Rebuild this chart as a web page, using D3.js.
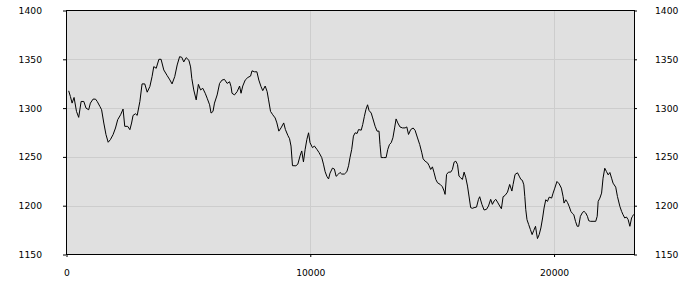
<!DOCTYPE html>
<html>
<head>
<meta charset="utf-8">
<script src="https://cdn.jsdelivr.net/npm/d3@7"></script>
<style>
  body { margin: 0; background: white; }
</style>
</head>
<body>
<script>
    // series (x position, value)
    var xs = [90,160,230,310,410,500,600,710,800,910,980,1090,1190,1260,1370,1440,1530,1620,1710,1800,
        1910,2010,2100,2220,2320,2390,2510,2600,2670,2730,2830,2900,3010,3100,3210,3310,3420,3510,3580,3680,
        3790,3880,3990,4130,4240,4330,4440,4540,4640,4730,4810,4910,5020,5090,5140,5220,5320,5410,5500,5590,
        5690,5770,5870,5930,6010,6070,6180,6280,6380,6480,6590,6690,6750,6790,6890,7000,7100,7160,7230,7330,
        7440,7550,7610,7710,7810,7890,7980,8050,8150,8230,8290,8370,8460,8560,8630,8710,8800,8910,8980,9080,
        9150,9210,9270,9410,9490,9580,9650,9720,9790,9860,9930,9990,10090,10170,10270,10360,10470,10540,10610,10680,
        10750,10810,10910,10990,11060,11160,11220,11290,11400,11500,11570,11630,11700,11770,11840,11920,11980,12090,12150,12220,
        12280,12350,12410,12500,12560,12660,12740,12820,12860,12910,13000,13110,13180,13250,13320,13390,13460,13520,13590,13680,
        13780,13890,13960,14030,14120,14220,14300,14400,14490,14570,14630,14710,14810,14870,14940,15010,15080,15150,15220,15330,
        15420,15490,15530,15590,15670,15760,15830,15900,15970,16040,16100,16170,16240,16310,16380,16450,16510,16580,16650,16720,
        16820,16900,16950,17040,17130,17230,17310,17400,17470,17540,17610,17680,17770,17840,17910,17990,18090,18180,18270,18320,
        18400,18500,18570,18640,18700,18760,18800,18840,18890,18960,19030,19100,19170,19240,19280,19320,19390,19460,19530,19590,
        19660,19730,19800,19900,19960,20030,20120,20210,20300,20370,20410,20480,20550,20620,20690,20760,20810,20880,20950,21010,
        21080,21170,21230,21300,21370,21420,21490,21600,21710,21770,21810,21880,21950,22010,22080,22150,22220,22290,22360,22420,
        22530,22600,22700,22770,22830,22900,22970,23040,23110,23180,23220,23260]
    var values = [1317.7,1311.9,1305.1,1310.9,1296.6,1290.5,1306.8,1306.8,1300,1298.3,1305.1,1309.2,1309.2,1306.8,1301.7,1298.3,1284.7,1272.8,1265,1267.7,
        1272.8,1279.6,1288.1,1293.2,1299,1281.3,1281.3,1277.9,1284.7,1292.5,1294.2,1292.5,1306.8,1324.8,1324.8,1316.3,1322.1,1332.3,1342.5,1340.8,
        1350,1350,1339.1,1333.3,1328.9,1324.8,1332.3,1344.2,1352.7,1352,1347.3,1351.7,1349,1342.2,1330.4,1318.6,1308.4,1324.3,1318.6,1320.3,
        1315.2,1310.1,1303.4,1294.9,1296.6,1305.1,1313.5,1325.3,1328.7,1329.4,1325.3,1327,1322,1315.2,1313.5,1316.9,1322.6,1315.2,1322.6,1328.7,
        1331.4,1332.8,1338.2,1337.2,1337.2,1328.7,1322,1317.9,1322.6,1316.9,1308.4,1296.6,1293.2,1289.9,1284.8,1276.4,1279.7,1284.8,1278,1272,
        1268.6,1261.1,1241,1240.9,1242.6,1251,1256.1,1244.9,1257.8,1267.9,1274.7,1264.5,1259.5,1261.1,1257.8,1254.4,1249.3,1242.6,1234.8,1230.1,
        1227.4,1233.4,1238.5,1237.5,1230.1,1232.4,1234.1,1232.4,1232.4,1234.8,1240.9,1249.3,1257.8,1271.3,1274.7,1274,1278,1277.4,1283.1,1291.6,
        1298.3,1303.4,1297.6,1294.9,1289.9,1281.4,1276.4,1276.4,1262.8,1249.3,1249.3,1249.3,1257.8,1262.8,1264.5,1269.6,1279.7,1288.9,1284.8,1280.7,
        1279.7,1279.7,1280.7,1273,1278,1279.6,1277.2,1269.4,1262.6,1254.8,1248,1245.6,1243.9,1241.2,1237.1,1239.8,1233.7,1226.9,1223.5,1221.8,
        1219.4,1215,1211.6,1232,1234.4,1234.4,1237.1,1244.6,1245.6,1242.2,1230.3,1228.6,1226.9,1234.4,1228.6,1220.1,1209.9,1198,1197.3,1198,
        1198.6,1206.5,1209.2,1201.4,1195.6,1196.3,1199.7,1206.5,1201.4,1204.8,1206.5,1203.7,1199.7,1196.9,1209.2,1210.5,1213.9,1221.8,1215,1221.8,
        1232,1233.7,1230.3,1226.9,1226,1221.4,1209.5,1195.9,1185.7,1180.6,1175.5,1170.4,1174.8,1178.9,1172.1,1166.3,1170.4,1177.2,1187.4,1197.6,
        1206.1,1204.4,1208.8,1207.8,1212.9,1218,1224.8,1222.4,1218,1209.5,1202.7,1206.1,1203.4,1199.3,1194.2,1191.8,1190.8,1184,1178.9,1178.9,
        1189.1,1193.2,1194.2,1192.5,1189.1,1184.7,1184,1184,1184,1189.1,1204.4,1207.8,1212.9,1228.2,1238.4,1235,1231.6,1234,1228.2,1223.1,
        1219,1209.5,1199.3,1194.2,1190.8,1187.4,1188.4,1185.7,1178.9,1187.4,1189.1,1191]

    var xTicks = [0, 10000, 20000]
    var yTicks = [1150, 1200, 1250, 1300, 1350, 1400]
    var xMax = 23300

    var svg = d3.select("body")
        .append("svg")
        .attr("width", 700)
        .attr("height", 300)
        .style("font-family", "DejaVu Sans, sans-serif")
        .style("font-size", "9.2px");

    var x = d3.scaleLinear().domain([0, xMax]).range([66.5, 634.5]);
    var y = d3.scaleLinear().domain([1150, 1400]).range([254.5, 10.5]);

    // plot background
    svg.append("rect")
        .attr("x", x(0)).attr("y", y(1400))
        .attr("width", x(xMax) - x(0)).attr("height", y(1150) - y(1400))
        .style("fill", "#e0e0e0");

    // grid
    svg.selectAll(".hgrid").data(yTicks.slice(1, -1)).enter()
        .append("line")
        .attr("x1", x(0)).attr("x2", x(xMax))
        .attr("y1", function (d) { return Math.round(y(d)) + 0.5 })
        .attr("y2", function (d) { return Math.round(y(d)) + 0.5 })
        .style("stroke", "#cdcdcd");
    svg.selectAll(".vgrid").data(xTicks.slice(1)).enter()
        .append("line")
        .attr("x1", function (d) { return Math.round(x(d)) + 0.5 })
        .attr("x2", function (d) { return Math.round(x(d)) + 0.5 })
        .attr("y1", y(1400)).attr("y2", y(1150))
        .style("stroke", "#cdcdcd");

    var data = xs.map(function (d, i) { return [d, values[i]] });
    svg.append("path")
        .datum(data)
        .attr("d", d3.line().x(function (d) { return x(d[0]) }).y(function (d) { return y(d[1]) }))
        .style("fill", "none")
        .style("stroke", "black")
        .style("stroke-width", 1);

    // axes
    var axisStyle = function (g) {
        g.select(".domain").remove();
        g.selectAll("line").style("stroke", "black");
        g.selectAll("text").style("fill", "black").style("font-family", "DejaVu Sans, sans-serif").style("font-size", "9.2px");
    };
    svg.append("g")
        .attr("transform", "translate(" + (x(0) - 0.5) + ",0)")
        .call(d3.axisLeft(y).tickValues(yTicks).tickSize(3).tickPadding(21).tickFormat(d3.format("d")))
        .call(axisStyle);
    svg.append("g")
        .attr("transform", "translate(" + (x(xMax) - 0.5) + ",0)")
        .call(d3.axisRight(y).tickValues(yTicks).tickSize(3).tickPadding(18).tickFormat(d3.format("d")))
        .call(axisStyle);
    svg.append("g")
        .attr("transform", "translate(0," + (y(1150) - 0.5) + ")")
        .call(d3.axisBottom(x).tickValues(xTicks).tickSize(3).tickPadding(12).tickFormat(d3.format("d")))
        .call(axisStyle);

    // frame
    svg.append("rect")
        .attr("x", x(0)).attr("y", y(1400))
        .attr("width", x(xMax) - x(0)).attr("height", y(1150) - y(1400))
        .style("fill", "none")
        .style("stroke", "black");
</script>
</body>
</html>
